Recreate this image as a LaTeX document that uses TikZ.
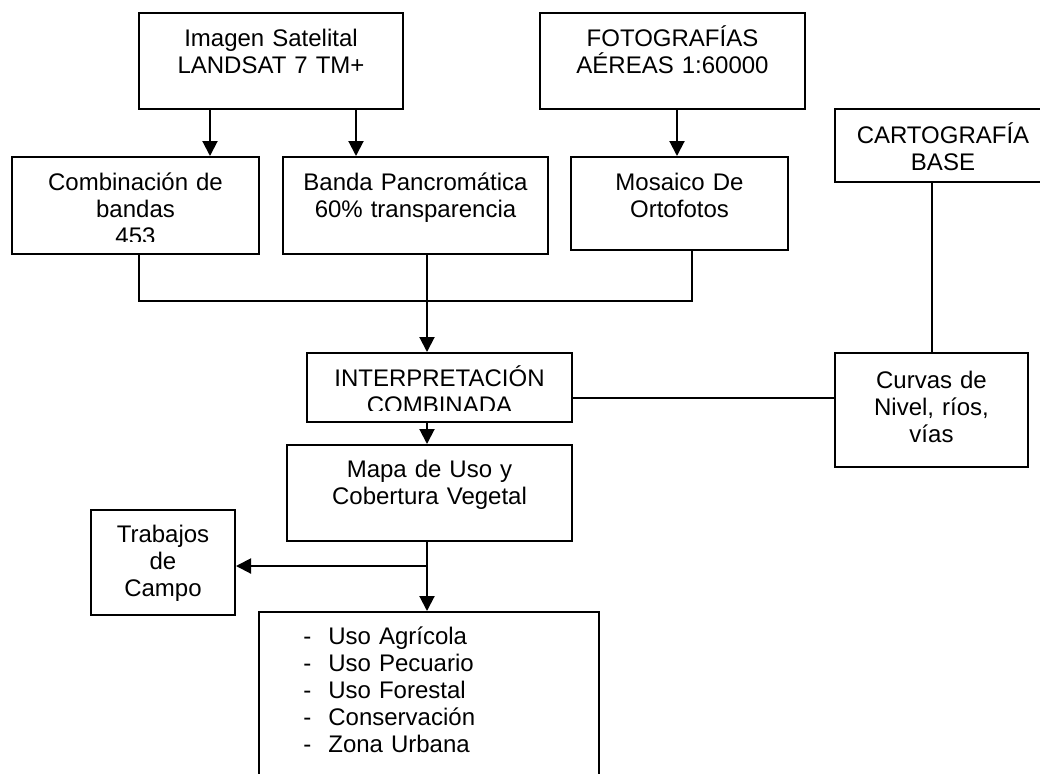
\documentclass[tikz,border=0pt]{standalone}
\usepackage{fontspec}
\setmainfont{Liberation Sans}
\usetikzlibrary{arrows.meta}

\begin{document}
\begin{tikzpicture}[
    x=0.5pt, y=-0.5pt,
    box/.style={rectangle, draw, line width=1pt, anchor=north west, inner sep=0pt},
    txt/.style={anchor=base, inner sep=0pt, text width=140pt, align=center, font=\fontsize{12}{13.5}\selectfont},
    arrow/.style={-{Triangle[length=7.5pt,width=7.5pt]}, line width=1pt},
    link/.style={line width=1pt}
]
\clip (0,0) rectangle (1040,773);

% boxes
\node[box, minimum width=132pt, minimum height=48pt] (img) at (138,12) {};
\node[box, minimum width=132.5pt, minimum height=48pt] (foto) at (539,12) {};
\node[box, minimum width=108pt, minimum height=36.5pt] (carto) at (834,108) {};
\node[box, minimum width=123.5pt, minimum height=48.5pt] (comb) at (11,156) {};
\node[box, minimum width=132.5pt, minimum height=48.5pt] (banda) at (282,156) {};
\node[box, minimum width=108.5pt, minimum height=46.5pt] (mosaico) at (570,156) {};
\node[box, minimum width=132.5pt, minimum height=34.5pt] (interp) at (306,352) {};
\node[box, minimum width=96.5pt, minimum height=57pt] (curvas) at (834,352) {};
\node[box, minimum width=142.5pt, minimum height=48pt] (mapa) at (286,444) {};
\node[box, minimum width=72pt, minimum height=52.5pt] (trab) at (90,509) {};
\node[box, minimum width=170pt, minimum height=100pt] (usos) at (258,611) {};

% texts
\node[txt] (imgtxt) at ([yshift=-17pt]img.north) {Imagen Satelital\\LANDSAT 7 TM+};
\node[txt] (fototxt) at ([yshift=-17pt]foto.north) {FOTOGRAFÍAS\\AÉREAS 1:60000};
\node[txt] (cartotxt) at ([yshift=-17.5pt]carto.north) {CARTOGRAFÍA\\BASE};
\begin{scope}
  \clip (comb.north west) rectangle ([yshift=7pt]comb.south east);
  \node[txt] (combtxt) at ([yshift=-17pt]comb.north) {Combinación de\\bandas\\453};
\end{scope}
\node[txt] (bandatxt) at ([yshift=-17pt]banda.north) {Banda Pancromática\\60\% transparencia};
\node[txt] (mosaicotxt) at ([yshift=-17pt]mosaico.north) {Mosaico De\\Ortofotos};
\begin{scope}
  \clip (interp.north west) rectangle ([yshift=6.5pt]interp.south east);
  \node[txt] (interptxt) at ([yshift=-17pt]interp.north) {INTERPRETACIÓN\\COMBINADA};
\end{scope}
\node[txt] (curvastxt) at ([yshift=-18pt]curvas.north) {Curvas de\\Nivel, ríos,\\vías};
\node[txt] (mapatxt) at ([yshift=-16.5pt]mapa.north) {Mapa de Uso y\\Cobertura Vegetal};
\node[txt] (trabtxt) at ([yshift=-16.5pt]trab.north) {Trabajos\\de\\Campo};
\node[txt, align=left, anchor=base west] (usostxt) at (303,644) {%
  \makebox[12.5pt][l]{-}Uso Agrícola\\
  \makebox[12.5pt][l]{-}Uso Pecuario\\
  \makebox[12.5pt][l]{-}Uso Forestal\\
  \makebox[12.5pt][l]{-}Conservación\\
  \makebox[12.5pt][l]{-}Zona Urbana};

% connectors
\coordinate (s1) at ([xshift=36pt]img.south west);
\coordinate (s2) at ([xshift=-24pt]img.south east);
\coordinate (s3) at ([xshift=2.25pt]foto.south);
\draw[arrow] (s1) -- (s1 |- comb.north);
\draw[arrow] (s2) -- (s2 |- banda.north);
\draw[arrow] (s3) -- (s3 |- mosaico.north);

\coordinate (m1) at ([xshift=1.75pt]comb.south);
\coordinate (m2) at ([xshift=5.75pt]banda.south);
\coordinate (m3) at ([xshift=6.25pt]mosaico.south);
\coordinate (join) at (m2 |- 0,301);
\draw[link] (m1) -- (m1 |- join) -- (m3 |- join) -- (m3);
\draw[link] (m2) -- (join);
\draw[arrow] (join) -- (join |- interp.north);

\draw[link] (curvas.north |- carto.south) -- (curvas.north);
\coordinate (c1) at ([yshift=-5.25pt]interp.east);
\draw[link] (c1) -- (c1 -| curvas.west);

\draw[arrow] (join |- interp.south) -- (join |- mapa.north);
\draw[arrow] (join |- mapa.south) -- (join |- usos.north);
\coordinate (fork) at (join |- 0,566);
\draw[arrow] (fork) -- (fork -| trab.east);
\end{tikzpicture}
\end{document}
